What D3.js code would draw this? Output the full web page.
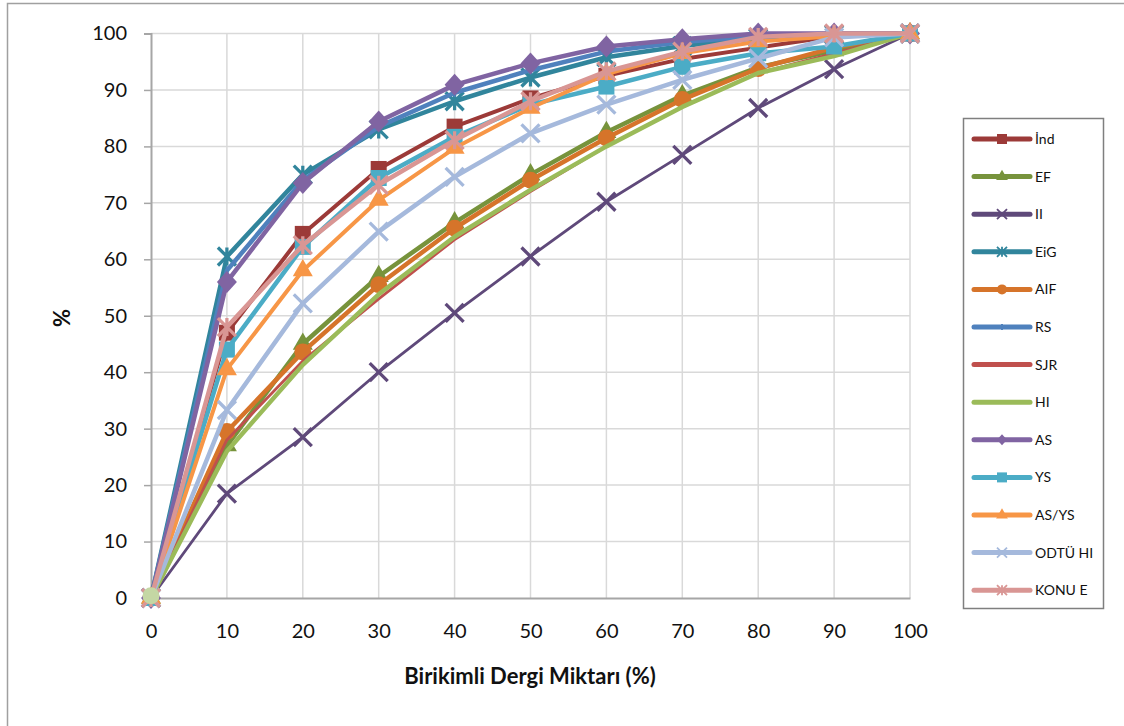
<!DOCTYPE html>
<html lang="tr">
<head>
<meta charset="UTF-8">
<title>Birikimli Dergi Miktarı</title>
<script src="https://d3js.org/d3.v7.min.js"></script>
<style>
  body { margin: 0; background: #fff; }
  text { font-family: Lato, "Open Sans", sans-serif; }
</style>
</head>
<body>
<script>
// x values (cumulative journal share, %)
var xVals = [0, 10, 20, 30, 40, 50, 60, 70, 80, 90, 100];
var yTicks = [0, 10, 20, 30, 40, 50, 60, 70, 80, 90, 100];

var names   = ["İnd", "EF", "II", "EiG", "AIF", "RS", "SJR", "HI", "AS", "YS", "AS/YS", "ODTÜ HI", "KONU E"];
var colors  = ["#9c3a38", "#77933c", "#5f497a", "#31859c", "#d6742a", "#4f81bd", "#c0504d", "#9bbb59", "#8064a2", "#4bacc6", "#f79646", "#a5b9dc", "#d99694"];
var markers = ["square", "triangle", "x", "star", "circle", "plus", "none", "none", "diamond", "square", "triangle", "x", "star"];
var widths  = [4, 4.5, 2.8, 4.5, 4.5, 4.5, 2.8, 4.5, 4.5, 4.5, 4, 4.5, 4.5];

var ind  = [0, 47, 64.5, 76, 83.5, 88.5, 92.5, 95.5, 97.5, 99.5, 100];
var ef   = [0, 27, 45, 57, 66.5, 75, 82.5, 89, 94, 97, 100];
var ii   = [0, 18.5, 28.5, 40, 50.5, 60.5, 70.2, 78.5, 86.8, 93.7, 100];
var eig  = [0, 60.5, 75, 83, 88, 92.2, 95.8, 97.8, 99.2, 99.8, 100];
var aif  = [0, 29.5, 43.6, 55.5, 65.5, 74, 81.5, 88.3, 93.8, 97.5, 100];
var rs   = [0, 58, 74, 83.5, 89.5, 93.5, 96.8, 98.5, 99.5, 100, 100];
var sjr  = [0, 28, 42, 53, 63.5, 72, 80, 87, 93, 96.5, 100];
var hi   = [0, 26, 41.3, 53.8, 64, 72.3, 80, 87, 93, 96, 100];
var as_  = [0, 56, 73.5, 84.4, 90.9, 94.7, 97.7, 99, 100, 100, 100];
var ys   = [0, 44, 62.2, 74.4, 81.7, 87.4, 90.6, 94.1, 96.5, 97.7, 100];
var asys = [0, 40.5, 58, 70.5, 79.7, 86.8, 92.8, 96.5, 98.6, 99.5, 100];
var odtu = [0, 33.3, 52.2, 64.9, 74.6, 82.3, 87.4, 91.8, 95.6, 99.3, 100];
var konu = [0, 48, 62.5, 73.2, 81.1, 88, 93.3, 96.8, 99.4, 100, 100];

var values = [ind, ef, ii, eig, aif, rs, sjr, hi, as_, ys, asys, odtu, konu];

var W = 1124, H = 726;
var svg = d3.select("body").append("svg").attr("width", W).attr("height", H);

// outer chart frame
svg.append("rect").attr("x", 7.5).attr("y", 3.5).attr("width", W + 10).attr("height", H + 10)
  .attr("fill", "none").attr("stroke", "#a0a0a0").attr("stroke-width", 1.5);

var x = d3.scaleLinear().domain([0, 100]).range([151, 910]);
var y = d3.scaleLinear().domain([0, 100]).range([598, 33.5]);

// gridlines
svg.append("g").selectAll("line.h").data(yTicks.slice(1)).enter().append("line")
  .attr("x1", x(0)).attr("x2", x(100)).attr("y1", d => y(d)).attr("y2", d => y(d))
  .attr("stroke", "#d9d9d9").attr("stroke-width", 1.5);
svg.append("g").selectAll("line.v").data(xVals.slice(1)).enter().append("line")
  .attr("x1", d => x(d)).attr("x2", d => x(d)).attr("y1", y(0)).attr("y2", y(100))
  .attr("stroke", "#d9d9d9").attr("stroke-width", 1.5);

// axes
var yAxis = svg.append("g").attr("transform", "translate(" + x(0) + ",0)")
  .call(d3.axisLeft(y).tickValues(yTicks).tickSize(7).tickPadding(17));
var xAxis = svg.append("g").attr("transform", "translate(0," + y(0) + ")")
  .call(d3.axisBottom(x).tickValues(xVals).tickSize(0).tickPadding(26));
[yAxis, xAxis].forEach(function (g) {
  g.select(".domain").attr("stroke", "#a6a6a6").attr("stroke-width", 2);
  g.selectAll(".tick line").attr("stroke", "#a6a6a6").attr("stroke-width", 1.5);
  g.selectAll(".tick text").attr("fill", "#111").style("font-size", "20px");
});

svg.append("text").attr("x", 530).attr("y", 684).attr("text-anchor", "middle")
  .style("font-size", "22px").style("font-weight", "bold").attr("fill", "#111")
  .text("Birikimli Dergi Miktarı (%)");
svg.append("text").attr("transform", "translate(70,318) rotate(-90)").attr("text-anchor", "middle")
  .style("font-size", "22px").style("font-weight", "bold").attr("fill", "#111").text("%");

// marker drawing
function drawMarker(g, type, color, s) {
  var h = s / 2;
  if (type === "square") {
    g.append("rect").attr("x", -h).attr("y", -h).attr("width", s).attr("height", s).attr("fill", color);
  } else if (type === "triangle") {
    g.append("path").attr("d", d3.symbol().type(d3.symbolTriangle).size(s * s * 0.6)()).attr("fill", color);
  } else if (type === "circle") {
    g.append("circle").attr("r", h).attr("fill", color);
  } else if (type === "diamond") {
    g.append("path").attr("d", "M0," + (-h * 1.1) + "L" + h + ",0L0," + (h * 1.1) + "L" + (-h) + ",0Z").attr("fill", color);
  } else if (type === "x" || type === "star") {
    var p = "M" + (-h) + "," + (-h) + "L" + h + "," + h + "M" + h + "," + (-h) + "L" + (-h) + "," + h;
    if (type === "star") p += "M0," + (-h) + "L0," + h;
    g.append("path").attr("d", p).attr("stroke", color).attr("stroke-width", Math.max(1.5, s / 5.5)).attr("fill", "none");
  } else if (type === "plus") {
    g.append("path").attr("d", "M0," + (-h * 0.6) + "L0," + (h * 0.6)).attr("stroke", color).attr("stroke-width", 2);
  }
}

var sizes = { square: 16, triangle: 17, circle: 17, diamond: 20, x: 18, star: 18, plus: 14, none: 0 };

var line = d3.line().x((d, i) => x(xVals[i])).y(d => y(d));

values.forEach(function (vals, k) {
  var g = svg.append("g");
  g.append("path").datum(vals).attr("d", line).attr("fill", "none")
    .attr("stroke", colors[k]).attr("stroke-width", widths[k]).attr("stroke-linejoin", "round");
  g.selectAll("g.m").data(vals).enter().append("g")
    .attr("transform", (d, i) => "translate(" + x(xVals[i]) + "," + y(d) + ")")
    .each(function () { drawMarker(d3.select(this), markers[k], colors[k], sizes[markers[k]]); });
});

// light marker sitting at the origin
svg.append("circle").attr("cx", x(0)).attr("cy", y(0.4)).attr("r", 8.5).attr("fill", "#c4d7a4");

// legend
var lg = svg.append("g");
lg.append("rect").attr("x", 963.5).attr("y", 118.5).attr("width", 140).attr("height", 490)
  .attr("fill", "#fff").attr("stroke", "#7f7f7f").attr("stroke-width", 1.5);
names.forEach(function (n, k) {
  var ly = 139 + k * 37.6;
  lg.append("line").attr("x1", 974).attr("x2", 1030).attr("y1", ly).attr("y2", ly)
    .attr("stroke", colors[k]).attr("stroke-width", 5).attr("stroke-linecap", "round");
  var mg = lg.append("g").attr("transform", "translate(1002," + ly + ")");
  drawMarker(mg, markers[k], colors[k], 10);
  lg.append("text").attr("x", 1035).attr("y", ly + 5).style("font-size", "14px").attr("fill", "#111").text(n);
});
</script>
</body>
</html>
